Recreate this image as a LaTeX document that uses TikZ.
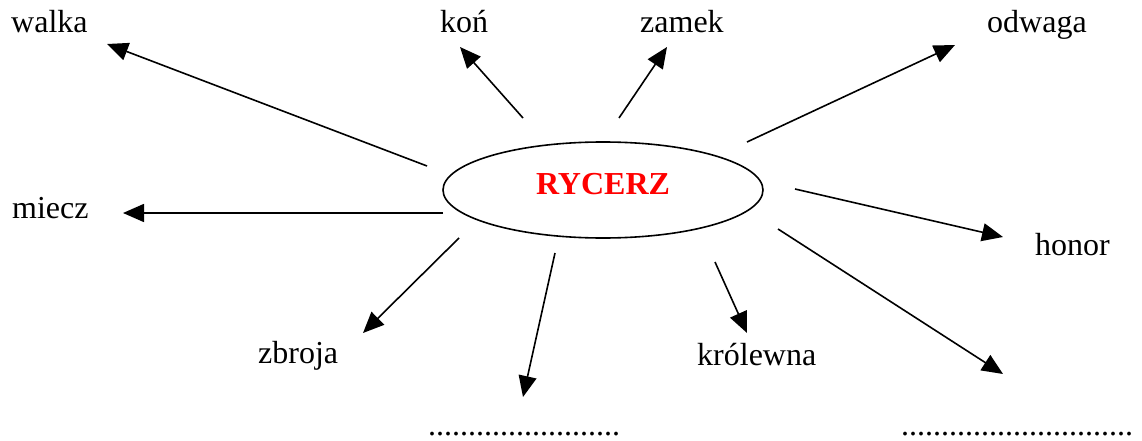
\documentclass[tikz,border=0pt]{standalone}
\usepackage{fontspec}
\setmainfont{Liberation Serif}
\usetikzlibrary{arrows.meta,shapes.geometric}
\tikzset{
  lbl/.style={anchor=base west,inner sep=0pt,font=\fontsize{32}{36}\selectfont},
  arr/.style={line width=1.6pt,-{Triangle[length=21pt,width=18pt]}},
  hub/.style={draw,ellipse,line width=1.6pt,minimum width=320pt,minimum height=96pt,inner sep=0pt},
  hubtext/.style={anchor=base,inner sep=0pt,text=red,font=\fontsize{32}{36}\selectfont\bfseries}
}
\begin{document}
\begin{tikzpicture}[x=1pt,y=-1pt]
\useasboundingbox (0,0) rectangle (1142,441);
\node[hub] (R) at (603,190) {};
\node[hubtext] (Rt) at (603,194) {RYCERZ};
% labels
\node[lbl] (walka) at (11,33) {walka};
\node[lbl] (kon) at (440,33) {koń};
\node[lbl] (zamek) at (640,33) {zamek};
\node[lbl] (odwaga) at (987,33) {odwaga};
\node[lbl] (miecz) at (12,218) {miecz};
\node[lbl] (honor) at (1035,255) {honor};
\node[lbl] (zbroja) at (258,363) {zbroja};
\node[lbl] (krolewna) at (697,365) {królewna};
\node[lbl] (blankA) at (428,435) {........................};
\node[lbl] (blankB) at (901,435) {.............................};
% arrow ends
\coordinate (s1) at (427,166); \coordinate (t1) at (107,44);
\coordinate (s2) at (523,118); \coordinate (t2) at (460,47);
\coordinate (s3) at (619,118); \coordinate (t3) at (667,47);
\coordinate (s4) at (747,142); \coordinate (t4) at (955,45);
\coordinate (s5) at (443,213); \coordinate (t5) at (123,213);
\coordinate (s6) at (795,189); \coordinate (t6) at (1003,237);
\coordinate (s7) at (459,238); \coordinate (t7) at (363,333);
\coordinate (s8) at (555,253); \coordinate (t8) at (523,397);
\coordinate (s9) at (715,262); \coordinate (t9) at (747,333);
\coordinate (s10) at (778,229); \coordinate (t10) at (1003,374);
\foreach \i in {1,...,10} {\draw[arr] (s\i) -- (t\i);}
\end{tikzpicture}
\end{document}
